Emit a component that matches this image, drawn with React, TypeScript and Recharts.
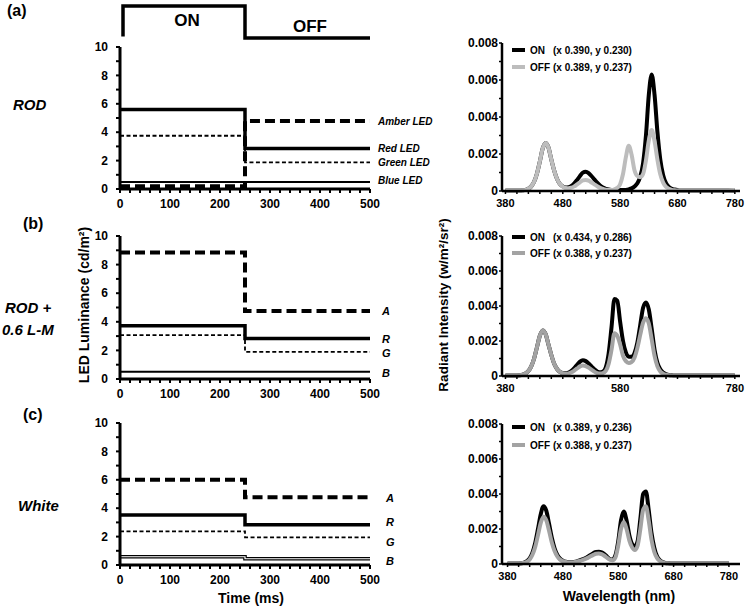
import React from 'react';
import { LineChart, Line, XAxis, YAxis, Legend } from 'recharts';

const FONT = '"Liberation Sans", Arial, Helvetica, sans-serif';

// ---------- Left column: LED luminance time course (cd/m²) ----------
const TIME_MS = [0, 250, 500];
const TIME_TICKS = [0, 20, 40, 60, 80, 100, 120, 140, 160, 180, 200, 220, 240, 260, 280, 300, 320, 340, 360, 380, 400, 420, 440, 460, 480, 500];
const LUM_TICKS = [0, 1, 2, 3, 4, 5, 6, 7, 8, 9, 10];

// ON/OFF stimulus pulse trace
const PULSE_TIME = [6, 6, 250, 250, 500];
const PULSE_LEVEL = [0.05, 1, 1, 0, 0];

const ROD_AMBER = [0.2, 4.78, 4.78];
const ROD_RED = [5.6, 2.86, 2.86];
const ROD_GREEN = [3.75, 1.88, 1.88];
const ROD_BLUE = [0.5, 0.5, 0.5];

const LM_AMBER = [8.84, 4.75, 4.75];
const LM_RED = [3.72, 2.84, 2.84];
const LM_GREEN = [3.07, 1.9, 1.9];
const LM_BLUE = [0.5, 0.5, 0.5];

const WHITE_AMBER = [6.0, 4.77, 4.77];
const WHITE_RED = [3.52, 2.84, 2.84];
const WHITE_GREEN = [2.37, 1.95, 1.95];
const WHITE_BLUE = [0.58, 0.44, 0.44];

const LONG_NAMES = ['Amber LED', 'Red LED', 'Green LED', 'Blue LED'];
const SHORT_NAMES = ['A', 'R', 'G', 'B'];

// ---------- Right column: spectra (radiant intensity, in units of 1e-4) ----------
const WAVELENGTH = [380, 390, 400, 405, 410, 415, 420, 425, 430, 435,
  440, 445, 450, 455, 460, 465, 470, 475, 480, 485,
  490, 495, 500, 505, 510, 515, 520, 525, 530, 535,
  540, 545, 550, 555, 560, 565, 570, 575, 580, 585,
  590, 595, 600, 605, 610, 615, 620, 625, 630, 635,
  640, 645, 650, 655, 660, 665, 670, 675, 680, 685,
  690, 695, 700, 710, 720, 740, 760, 780];
const SPEC_TICKS = [380, 400, 420, 440, 460, 480, 500, 520, 540, 560, 580, 600, 620, 640, 660, 680, 700, 720, 740, 760, 780];
const INTENSITY_TICKS = [0, 10, 20, 30, 40, 50, 60, 70, 80];
const SERIES_ORDER = ['ON', 'OFF'];

const ROD_ON = [0.3, 0.3, 0.3, 0.3, 0.4, 0.6, 1.2, 2.5, 5, 9.5,
  16, 23, 26, 23.5, 17, 11, 6.5, 3.8, 2.5, 1.9,
  2.0, 2.7, 4.1, 6.0, 8.1, 9.9, 10.4, 9.7, 8.1, 6.3,
  4.5, 3.0, 1.9, 1.2, 0.8, 0.6, 0.5, 0.5, 0.5, 0.5,
  0.6, 0.9, 1.4, 2.4, 4.2, 7.7, 15, 30, 52, 63,
  52, 32, 17, 8.5, 4.2, 2.2, 1.2, 0.8, 0.5, 0.3,
  0.3, 0.3, 0.3, 0.3, 0.3, 0.3, 0.3, 0.3];
const ROD_OFF = [0.3, 0.3, 0.3, 0.3, 0.4, 0.6, 1.2, 2.5, 5, 9.5,
  16, 23, 26, 23.5, 17, 11, 6.5, 3.8, 2.4, 1.65,
  1.5, 1.8, 2.5, 3.6, 4.7, 5.7, 6.0, 5.6, 4.6, 3.6,
  2.6, 1.7, 1.1, 0.7, 0.5, 0.5, 0.9, 1.7, 3.7, 9.2,
  18.3, 24.4, 19.6, 11.2, 8.1, 7.5, 9.2, 16.6, 27.3, 33,
  27, 17, 9, 4.5, 2.2, 1.2, 0.6, 0.4, 0.3, 0.3,
  0.3, 0.3, 0.3, 0.3, 0.3, 0.3, 0.3, 0.6];

const LM_ON = [0.3, 0.3, 0.3, 0.4, 0.7, 1.4, 2.8, 5.5, 10, 16.5,
  23, 26, 24, 18, 12, 7, 4, 2.3, 1.7, 1.6,
  2.0, 3.0, 4.5, 6.4, 8.2, 9, 8.5, 7.2, 5.5, 3.8,
  2.6, 2.1, 2.5, 5, 13, 28, 44, 43, 31, 20,
  13.5, 11, 11, 13, 19, 29, 39, 42, 38, 27,
  15, 7.5, 3.8, 2, 1.1, 0.6, 0.4, 0.3, 0.3, 0.3,
  0.3, 0.3, 0.3, 0.3, 0.3, 0.3, 0.3, 0.3];
const LM_OFF = [0.3, 0.3, 0.3, 0.4, 0.7, 1.4, 2.8, 5.5, 10, 16.5,
  23, 26, 24, 18, 12, 7, 4, 2.3, 1.6, 1.3,
  1.5, 2.1, 3.1, 4.3, 5.5, 6, 5.7, 4.8, 3.7, 2.5,
  1.7, 1.4, 1.7, 2.9, 7, 15, 24.5, 23, 18, 11.5,
  8.5, 7.5, 8, 10.5, 16, 23.5, 30.5, 33, 30, 21,
  11.5, 5.5, 2.6, 1.3, 0.7, 0.4, 0.3, 0.3, 0.3, 0.3,
  0.3, 0.3, 0.3, 0.3, 0.3, 0.3, 0.3, 0.3];

const WHITE_ON = [0.3, 0.3, 0.3, 0.4, 0.8, 1.6, 3.2, 6.5, 12, 20,
  28.5, 33, 30.5, 23, 15, 9, 5.2, 3, 1.9, 1.3,
  1.0, 1.0, 1.2, 1.5, 2.0, 2.6, 3.3, 4.2, 5.2, 6.2,
  6.9, 7, 6.6, 5.6, 4.2, 2.8, 2.6, 5, 13, 25,
  30, 25, 16.5, 11.5, 10, 13, 26, 40, 41.5, 31,
  18, 9.5, 4.5, 2.2, 1.1, 0.6, 0.4, 0.3, 0.3, 0.3,
  0.3, 0.3, 0.3, 0.3, 0.3, 0.3, 0.3, 0.3];
const WHITE_OFF = [0.3, 0.3, 0.3, 0.4, 0.7, 1.3, 2.6, 5.3, 9.8, 16.5,
  23.5, 27, 25, 19, 12.3, 7.4, 4.3, 2.5, 1.6, 1.1,
  0.9, 0.9, 1.0, 1.3, 1.7, 2.2, 2.8, 3.5, 4.4, 5.2,
  5.9, 6.0, 5.6, 4.7, 3.5, 2.4, 2.2, 3.8, 10.5, 20,
  24, 20, 13.5, 9.5, 8, 10.5, 20, 31, 33, 25,
  14, 7, 3.5, 1.8, 0.9, 0.5, 0.4, 0.3, 0.3, 0.3,
  0.3, 0.3, 0.3, 0.3, 0.3, 0.3, 0.3, 0.3];

const ROD_COORDS = ['(x 0.390, y 0.230)', '(x 0.389, y 0.237)'];
const LM_COORDS = ['(x 0.434, y 0.286)', '(x 0.388, y 0.237)'];
const WHITE_COORDS = ['(x 0.389, y 0.236)', '(x 0.388, y 0.237)'];

const tickStyle = (size: number) => ({ fill: '#000', fontSize: size, fontWeight: 700, fontFamily: FONT });

function PulseChart() {
  const data = PULSE_TIME.map((t, i) => ({ t, level: PULSE_LEVEL[i] }));
  return (
    <div style={{ position: 'absolute', left: 80, top: 0 }}>
      <LineChart width={360} height={45} data={data} margin={{ top: 6, right: 70, bottom: 7, left: 40 }}>
        <XAxis dataKey="t" type="number" domain={[0, 500]} hide />
        <YAxis type="number" domain={[0, 1]} hide />
        <Line dataKey="level" type="linear" stroke="#000" strokeWidth={3.5} dot={false} activeDot={false} isAnimationActive={false} />
      </LineChart>
    </div>
  );
}

type LumProps = {
  top: number; height: number; mt: number; mb: number;
  amber: number[]; red: number[]; green: number[]; blue: number[];
  names: string[]; dx: number; dy: number[]; labelSize: number; doubleBlue: boolean;
};

function LumChart(p: LumProps) {
  const data = TIME_MS.map((t, i) => ({ t, amber: p.amber[i], red: p.red[i], green: p.green[i], blue: p.blue[i], blueInner: p.blue[i] }));
  const last = TIME_MS.length - 1;
  const endLabel = (text: string, off: number) => (props: any) => {
    if (props.index !== last) return <g />;
    return (
      <text x={props.x + p.dx} y={props.y + off} fontFamily={FONT} fontSize={p.labelSize} fontWeight={700} fontStyle="italic" fill="#000">
        {text}
      </text>
    );
  };
  const common = { type: 'stepAfter' as const, dot: false, activeDot: false, isAnimationActive: false, stroke: '#000' };
  return (
    <div style={{ position: 'absolute', left: 80, top: p.top }}>
      <LineChart width={360} height={p.height} data={data} margin={{ top: p.mt, right: 70, bottom: p.mb, left: 0 }}>
        <XAxis dataKey="t" type="number" domain={[0, 500]} ticks={TIME_TICKS} interval={0}
          tickFormatter={(v: number) => (v % 100 === 0 ? String(v) : '')} height={30}
          axisLine={{ stroke: '#000', strokeWidth: 3 }} tickLine={{ stroke: '#000', strokeWidth: 2 }}
          tickSize={4} tickMargin={6} tick={tickStyle(12)} />
        <YAxis type="number" domain={[0, 10]} ticks={LUM_TICKS} interval={0}
          tickFormatter={(v: number) => (v % 2 === 0 ? String(v) : '')} width={40}
          axisLine={{ stroke: '#000', strokeWidth: 3 }} tickLine={{ stroke: '#000', strokeWidth: 2 }}
          tickSize={4} tickMargin={8} tick={tickStyle(12)} />
        <Line {...common} dataKey="blue" strokeWidth={p.doubleBlue ? 3.6 : 2} label={endLabel(p.names[3], p.dy[3])} />
        {p.doubleBlue && <Line {...common} dataKey="blueInner" stroke="#fff" strokeWidth={1.2} />}
        <Line {...common} dataKey="green" strokeWidth={1.8} strokeDasharray="4 2.5" label={endLabel(p.names[2], p.dy[2])} />
        <Line {...common} dataKey="red" strokeWidth={3.5} label={endLabel(p.names[1], p.dy[1])} />
        <Line {...common} dataKey="amber" strokeWidth={4} strokeDasharray="10 5" label={endLabel(p.names[0], p.dy[0])} />
      </LineChart>
    </div>
  );
}

type SpecProps = {
  top: number; height: number; mt: number; domain: [number, number];
  on: number[]; off: number[]; offColor: string; labelEvery: number;
  legendTop: number; rowH: number; coords: string[];
};

function SpecChart(p: SpecProps) {
  const data = WAVELENGTH.map((w, i) => ({ w, on: p.on[i], off: p.off[i] }));
  const legendContent = (props: any) => {
    const items: any[] = (props && props.payload) || [];
    return (
      <div style={{ fontFamily: FONT, fontSize: 10, fontWeight: 700, color: '#000' }}>
        {SERIES_ORDER.map((name, i) => {
          const it = items.find((x) => x.value === name);
          const color = it ? it.color : '#000';
          return (
            <div key={name} style={{ height: p.rowH, display: 'flex', alignItems: 'center', whiteSpace: 'nowrap' }}>
              <span style={{ display: 'inline-block', width: 13, height: 4, background: color, marginRight: 5 }} />
              <span style={{ display: 'inline-block', width: 23 }}>{name}</span>
              <span>{p.coords[i]}</span>
            </div>
          );
        })}
      </div>
    );
  };
  return (
    <div style={{ position: 'absolute', left: 462, top: p.top }}>
      <LineChart width={284} height={p.height} data={data} margin={{ top: p.mt, right: 6, bottom: 0, left: 0 }}>
        <XAxis dataKey="w" type="number" domain={p.domain} ticks={SPEC_TICKS} interval={0}
          tickFormatter={(v: number) => ((v - 380) % p.labelEvery === 0 ? String(v) : '')} height={30}
          axisLine={{ stroke: '#000', strokeWidth: 2.5 }} tickLine={{ stroke: '#000', strokeWidth: 1.5 }}
          tickSize={3} tickMargin={5} tick={tickStyle(11)} />
        <YAxis type="number" domain={[0, 80]} ticks={INTENSITY_TICKS} interval={0}
          tickFormatter={(v: number) => (v === 0 ? '0' : v % 20 === 0 ? (v / 10000).toFixed(3) : '')} width={40}
          axisLine={{ stroke: '#000', strokeWidth: 2.5 }} tickLine={{ stroke: '#000', strokeWidth: 1.5 }}
          tickSize={3} tickMargin={1} tick={tickStyle(12)} />
        <Legend layout="vertical" align="center" verticalAlign="middle" content={legendContent}
          wrapperStyle={{ position: 'absolute', left: 50, top: p.legendTop, width: 200, height: p.rowH * 2 }} />
        <Line dataKey="on" name="ON" type="monotone" stroke="#000" strokeWidth={4} dot={false} activeDot={false} isAnimationActive={false} />
        <Line dataKey="off" name="OFF" type="monotone" stroke={p.offColor} strokeWidth={4} dot={false} activeDot={false} isAnimationActive={false} />
      </LineChart>
    </div>
  );
}

export default function App() {
  return (
    <div style={{ position: 'absolute', left: 0, top: 0, width: 746, height: 608, background: '#fff', overflow: 'hidden' }}>
      <PulseChart />
      <LumChart top={30} height={190} mt={17} mb={1} amber={ROD_AMBER} red={ROD_RED} green={ROD_GREEN} blue={ROD_BLUE}
        names={LONG_NAMES} dx={8} dy={[4, 4, 4, 2]} labelSize={10} doubleBlue={false} />
      <LumChart top={220} height={190} mt={16} mb={1} amber={LM_AMBER} red={LM_RED} green={LM_GREEN} blue={LM_BLUE}
        names={SHORT_NAMES} dx={12} dy={[4, 4.5, 5, 5]} labelSize={11} doubleBlue={false} />
      <LumChart top={405} height={190} mt={18} mb={0} amber={WHITE_AMBER} red={WHITE_RED} green={WHITE_GREEN} blue={WHITE_BLUE}
        names={SHORT_NAMES} dx={16} dy={[4.5, 1.5, 8.5, 6]} labelSize={11} doubleBlue={true} />

      <SpecChart top={31} height={190} mt={12} domain={[374, 789]} on={ROD_ON} off={ROD_OFF} offColor="#bdbdbd"
        labelEvery={100} legendTop={10.5} rowH={17} coords={ROD_COORDS} />
      <SpecChart top={220} height={186} mt={16} domain={[374, 789]} on={LM_ON} off={LM_OFF} offColor="#a3a3a3"
        labelEvery={200} legendTop={9} rowH={16} coords={LM_COORDS} />
      <SpecChart top={405} height={189} mt={19} domain={[370, 800]} on={WHITE_ON} off={WHITE_OFF} offColor="#a3a3a3"
        labelEvery={100} legendTop={13} rowH={18} coords={WHITE_COORDS} />

      <svg width={746} height={608} style={{ position: 'absolute', left: 0, top: 0, pointerEvents: 'none' }}
        fontFamily={FONT} fontWeight={700} fill="#000">
        <text x={7} y={16} fontSize={16}>(a)</text>
        <text x={23} y={229} fontSize={16}>(b)</text>
        <text x={23} y={420} fontSize={16}>(c)</text>
        <text x={13} y={110} fontSize={15} fontStyle="italic">ROD</text>
        <text x={5} y={313} fontSize={15} fontStyle="italic">ROD +</text>
        <text x={2} y={335} fontSize={15} fontStyle="italic">0.6 L-M</text>
        <text x={18} y={511} fontSize={15} fontStyle="italic">White</text>
        <text x={187} y={26} fontSize={17} textAnchor="middle">ON</text>
        <text x={310} y={32} fontSize={17} textAnchor="middle">OFF</text>
        <text transform="translate(84,305) rotate(-90)" fontSize={14} textAnchor="middle" dy="0.35em">LED Luminance (cd/m²)</text>
        <text transform="translate(443,305) rotate(-90)" fontSize={13.5} textAnchor="middle" dy="0.35em">Radiant Intensity (w/m²/sr²)</text>
        <text x={251} y={603} fontSize={14} textAnchor="middle">Time (ms)</text>
        <text x={619} y={601} fontSize={14} textAnchor="middle">Wavelength (nm)</text>
      </svg>
    </div>
  );
}
